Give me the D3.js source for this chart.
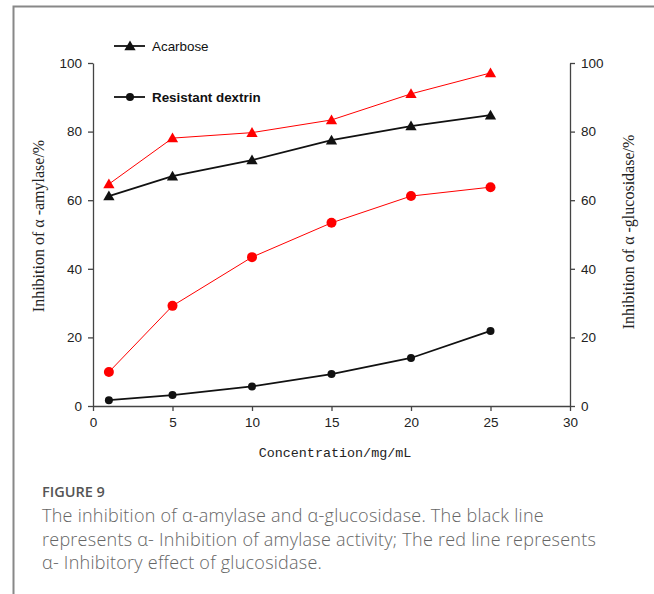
<!DOCTYPE html>
<html>
<head>
<meta charset="utf-8">
<script src="https://cdn.jsdelivr.net/npm/d3@7"></script>
<style>
  body { margin: 0; background: #fff; }
  svg { display: block; }
</style>
</head>
<body>
<svg id="chart" width="654" height="594"></svg>
<script>
const conc = [1, 5, 10, 15, 20, 25];
const amylaseAcarbose = [61.2, 67.0, 71.7, 77.5, 81.6, 84.8];
const amylaseDextrin = [1.7, 3.2, 5.7, 9.3, 14.0, 21.9];
const glucoAcarbose = [64.7, 78.1, 79.7, 83.4, 91.0, 97.1];
const glucoDextrin = [9.9, 29.2, 43.4, 53.4, 61.2, 63.8];
const xTicks = [0, 5, 10, 15, 20, 25, 30];
const yTicks = [0, 20, 40, 60, 80, 100];
const captionLines = [
  "The inhibition of \u03b1-amylase and \u03b1-glucosidase. The black line",
  "represents \u03b1- Inhibition of amylase activity; The red line represents",
  "\u03b1- Inhibitory effect of glucosidase."
];

const svg = d3.select("#chart");
const axisColor = "#444";
const sans = "'Liberation Sans', Arial, sans-serif";

// frame
svg.append("path")
  .attr("d", "M13.5,594 V6.5 H654")
  .attr("fill", "none").attr("stroke", "#888").attr("stroke-width", 2);

const x = d3.scaleLinear().domain([0, 30]).range([93, 570]);
const yL = d3.scaleLinear().domain([0, 100]).range([406, 63]);
const yR = d3.scaleLinear().domain([0, 100]).range([406, 63]);

function styleAxis(g) {
  g.selectAll("path, line").attr("stroke", axisColor).attr("stroke-width", 1.3);
  g.selectAll("text").attr("font-family", sans).attr("font-size", 13.5).attr("fill", "#222");
}

svg.append("g").attr("transform", "translate(0,406)")
  .call(d3.axisBottom(x).tickValues(xTicks).tickSize(5).tickSizeOuter(0).tickPadding(6))
  .call(styleAxis);
svg.append("g").attr("transform", "translate(93,0)")
  .call(d3.axisLeft(yL).tickValues(yTicks).tickSize(5).tickSizeOuter(0).tickPadding(6))
  .call(styleAxis);
svg.append("g").attr("transform", "translate(570,0)")
  .call(d3.axisRight(yR).tickValues(yTicks).tickSize(5).tickSizeOuter(0).tickPadding(6))
  .call(styleAxis);

// axis titles
const serif = "'Liberation Serif', 'Times New Roman', serif";
svg.append("text")
  .attr("transform", "translate(44,226) rotate(-90)")
  .attr("text-anchor", "middle").attr("font-family", serif).attr("font-size", 16).attr("fill", "#222")
  .text("Inhibition of \u03b1 -amylase/%");
svg.append("text")
  .attr("transform", "translate(634,232) rotate(-90)")
  .attr("text-anchor", "middle").attr("font-family", serif).attr("font-size", 16).attr("fill", "#222")
  .text("Inhibition of \u03b1 -glucosidase/%");
svg.append("text")
  .attr("x", 335).attr("y", 457)
  .attr("text-anchor", "middle").attr("font-family", "'Liberation Mono', monospace").attr("font-size", 13.4).attr("fill", "#222")
  .text("Concentration/mg/mL");

const series = [
  {vals: amylaseAcarbose, y: yL, color: "#111", width: 1.8, shape: "tri"},
  {vals: amylaseDextrin, y: yL, color: "#111", width: 1.8, shape: "circ"},
  {vals: glucoAcarbose, y: yR, color: "#ff0000", width: 1, shape: "tri"},
  {vals: glucoDextrin, y: yR, color: "#ff0000", width: 1, shape: "circ"}
];

const triangle = d3.symbol().type(d3.symbolTriangle).size(55);

series.forEach(s => {
  const pts = conc.map((c, i) => [c, s.vals[i]]);
  const line = d3.line().x(d => x(d[0])).y(d => s.y(d[1]));
  svg.append("path").attr("d", line(pts))
    .attr("fill", "none").attr("stroke", s.color).attr("stroke-width", s.width);
  const g = svg.append("g");
  if (s.shape === "tri") {
    g.selectAll("path").data(pts).join("path")
      .attr("d", triangle)
      .attr("transform", d => `translate(${x(d[0])},${s.y(d[1]) + 1})`)
      .attr("fill", s.color);
  } else {
    g.selectAll("circle").data(pts).join("circle")
      .attr("cx", d => x(d[0])).attr("cy", d => s.y(d[1]))
      .attr("r", s.color === "#111" ? 4 : 5)
      .attr("fill", s.color);
  }
});

// legend
const legend = [
  {label: "Acarbose", y: 46, shape: "tri", bold: false},
  {label: "Resistant dextrin", y: 97, shape: "circ", bold: true}
];
legend.forEach(l => {
  svg.append("line").attr("x1", 114).attr("x2", 145).attr("y1", l.y).attr("y2", l.y)
    .attr("stroke", "#111").attr("stroke-width", 1.8);
  if (l.shape === "tri") {
    svg.append("path").attr("d", triangle).attr("transform", `translate(130,${l.y + 1})`).attr("fill", "#111");
  } else {
    svg.append("circle").attr("cx", 130).attr("cy", l.y).attr("r", 4).attr("fill", "#111");
  }
  svg.append("text").attr("x", 152).attr("y", l.y + 5)
    .attr("font-family", sans).attr("font-size", 13.4).attr("fill", "#111")
    .attr("font-weight", l.bold ? "bold" : "normal")
    .text(l.label);
});

// caption
svg.append("text").attr("x", 42).attr("y", 497)
  .attr("font-family", "'Open Sans', sans-serif").attr("font-size", 14.5).attr("font-weight", 600)
  .attr("fill", "#555").text("FIGURE 9");
svg.append("g").selectAll("text").data(captionLines).join("text")
  .attr("x", 42).attr("y", (d, i) => 522 + i * 23.5)
  .attr("font-family", "'Open Sans', sans-serif").attr("font-size", 18).attr("font-weight", 300)
  .attr("letter-spacing", 0.25)
  .attr("fill", "#666").text(d => d);
</script>
</body>
</html>
